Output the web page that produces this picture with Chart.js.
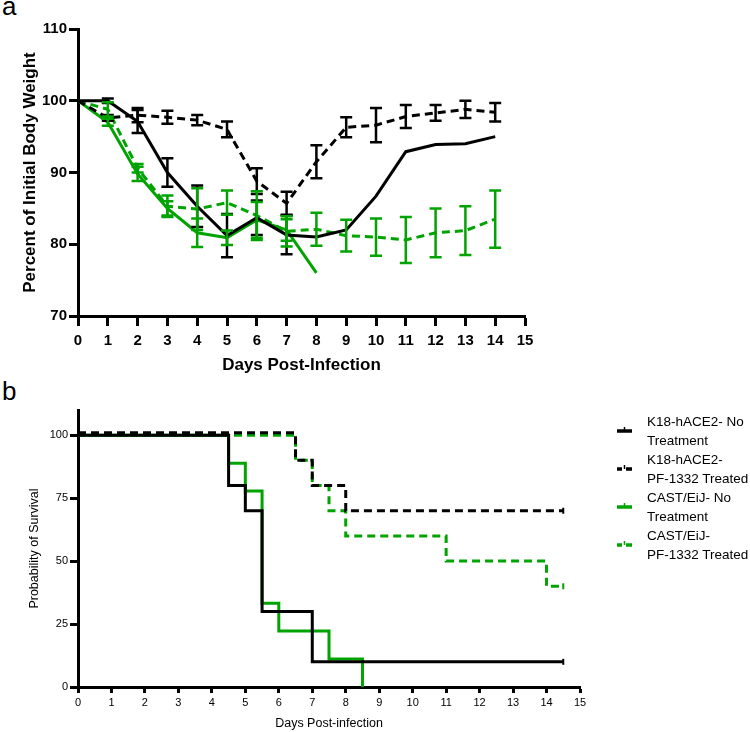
<!DOCTYPE html>
<html>
<head>
<meta charset="utf-8">
<script src="https://cdn.jsdelivr.net/npm/chart.js@4.4.1/dist/chart.umd.min.js"></script>
<style>
  body { margin: 0; background: #fff; width: 750px; height: 732px; position: relative; overflow: hidden; font-family: "Liberation Sans", Arial, sans-serif; }
  .panel { position: absolute; left: 2px; font-size: 26px; line-height: 26px; color: #000; }
  #wrapA { position: absolute; left: 0; top: 0; }
  #wrapB { position: absolute; left: 0; top: 380px; }
  #legend { position: absolute; left: 615px; top: 412px; font-size: 13.5px; line-height: 19px; color: #000; }
  .item { position: relative; padding-left: 32px; height: 38px; }
  .item svg { position: absolute; left: 0; top: 13px; }
</style>
</head>
<body>
<div class="panel" style="top:-7px">a</div>
<div class="panel" style="top:378px">b</div>
<div id="wrapA"><canvas id="weight" width="750" height="380"></canvas></div>
<div id="wrapB"><canvas id="survival" width="750" height="352"></canvas></div>
<div id="legend"></div>

<script>
const BLACK = '#000000'
const GREEN = '#00a300'
const FONT = '"Liberation Sans", Arial, sans-serif'

// panel a: percent of initial body weight, mean and sem per day
const days = [0, 1, 2, 3, 4, 5, 6, 7, 8, 9, 10, 11, 12, 13, 14]
const k18NoTxMean = [100, 100, 97.1, 90, 85.3, 81.2, 83.7, 81.3, 81, 82, 86.7, 92.9, 93.9, 94, 95]
const k18NoTxSem = [0, 0.3, 1.6, 2, 2.9, 3, 2.4, 2.7, 0, 0, 0, 0, 0, 0, 0]
const k18PfMean = [100, 97.6, 98, 97.7, 97.3, 96, 88.8, 85.7, 91.5, 96.3, 96.6, 97.8, 98.3, 98.8, 98.4]
const k18PfSem = [0, 0.4, 1.0, 0.9, 0.7, 1.1, 1.8, 1.6, 2.3, 1.4, 2.4, 1.6, 1.1, 1.2, 1.3]
const castNoTxMean = [100, 97, 89.8, 85, 81.6, 80.9, 83.4, 82, 76]
const castNoTxSem = [0, 0.5, 1, 1, 2, 1, 2.5, 1.5, 0]
const castPfMean = [100, 98.8, 90.6, 85.3, 84.9, 85.8, 84, 81.8, 82.1, 81.2, 81, 80.6, 81.6, 81.9, 83.5]
const castPfSem = [0, 1, 0.6, 1.5, 2.9, 1.7, 3.4, 2.1, 2.3, 2.2, 2.6, 3.2, 3.4, 3.4, 4]

// panel b: Kaplan-Meier survival steps
const k18NoTxTimes = [0, 4.5, 5, 5.5, 7, 14.5]
const k18NoTxSurv = [100, 80, 70, 30, 10, 10]
const k18PfTimes = [0, 6.5, 7, 8, 14.5]
const k18PfSurv = [101, 90, 80, 70, 70]
const castNoTxTimes = [0, 4.5, 5, 5.5, 6, 7.5, 8.5]
const castNoTxSurv = [100, 88.9, 77.8, 33.3, 22.2, 11.1, 0]
const castPfTimes = [0, 6.5, 7, 7.5, 8, 11, 14, 14.5]
const castPfSurv = [100, 90, 80, 70, 60, 50, 40, 40]

const legendLabels = [
  ['K18-hACE2- No', 'Treatment'],
  ['K18-hACE2-', 'PF-1332 Treated'],
  ['CAST/EiJ- No', 'Treatment'],
  ['CAST/EiJ-', 'PF-1332 Treated']
]

const toPoints = (xs, ys) => ys.map((v, i) => ({ x: xs[i], y: v }))

const errorBars = {
  id: 'errorBars',
  afterDatasetsDraw(chart) {
    const { ctx, scales: { x, y } } = chart
    chart.data.datasets.forEach((ds) => {
      if (!ds.sem) return
      ctx.save()
      ctx.strokeStyle = ds.borderColor
      ctx.lineWidth = 2.5
      ctx.setLineDash([])
      ds.data.forEach((p, j) => {
        const e = ds.sem[j]
        if (!e) return
        const px = x.getPixelForValue(p.x)
        const hi = y.getPixelForValue(p.y + e)
        const lo = y.getPixelForValue(p.y - e)
        ctx.beginPath()
        ctx.moveTo(px, hi); ctx.lineTo(px, lo)
        ctx.moveTo(px - 6, hi); ctx.lineTo(px + 6, hi)
        ctx.moveTo(px - 6, lo); ctx.lineTo(px + 6, lo)
        ctx.stroke()
      })
      ctx.restore()
    })
  }
}

function axis(opts) {
  return {
    type: 'linear',
    min: opts.min,
    max: opts.max,
    ticks: {
      stepSize: opts.step,
      color: BLACK,
      padding: opts.tickPad,
      font: { family: FONT, size: opts.tickSize, weight: opts.weight }
    },
    grid: { drawOnChartArea: false, drawTicks: true, tickLength: opts.tickLen, tickWidth: opts.lineW, tickColor: BLACK },
    border: { color: BLACK, width: opts.lineW },
    title: {
      display: true,
      text: opts.title,
      color: BLACK,
      padding: opts.titlePad,
      font: { family: FONT, size: opts.titleSize, weight: opts.weight }
    },
    afterFit: opts.fit,
    afterBuildTicks: opts.buildTicks
  }
}

const lineStyle = (color, dashed, width) => ({
  borderColor: color,
  backgroundColor: color,
  borderWidth: width,
  borderDash: dashed ? [8, 5] : [],
  pointRadius: 0,
  tension: 0,
  fill: false
})

new Chart(document.getElementById('weight'), {
  type: 'line',
  data: {
    datasets: [
      { ...lineStyle(BLACK, false, 3), data: toPoints(days, k18NoTxMean), sem: k18NoTxSem },
      { ...lineStyle(BLACK, true, 3), data: toPoints(days, k18PfMean), sem: k18PfSem },
      { ...lineStyle(GREEN, false, 3), data: toPoints(days, castNoTxMean), sem: castNoTxSem },
      { ...lineStyle(GREEN, true, 3), data: toPoints(days, castPfMean), sem: castPfSem }
    ]
  },
  options: {
    responsive: false,
    animation: false,
    layout: { padding: { top: 29, right: 225, left: 0, bottom: 0 } },
    plugins: { legend: { display: false }, tooltip: { enabled: false } },
    scales: {
      x: axis({ min: 0, max: 15, step: 1, tickSize: 15, weight: 'bold', tickPad: 6, tickLen: 10, lineW: 3,
        title: 'Days Post-Infection', titleSize: 17, titlePad: { top: 0, bottom: 4 }, fit: (s) => { s.height = 64 } }),
      y: axis({ min: 70, max: 110, step: 10, tickSize: 15, weight: 'bold', tickPad: 2, tickLen: 9, lineW: 3,
        title: 'Percent of Initial Body Weight', titleSize: 17, titlePad: { top: 20, bottom: 0 }, fit: (s) => { s.width = 78 } })
    }
  },
  plugins: [errorBars]
})

const kmStyle = (color, dashed, n, censored) => ({
  ...lineStyle(color, dashed, 3),
  stepped: true,
  pointStyle: 'line',
  rotation: 90,
  pointBorderWidth: 2,
  pointBorderColor: color,
  pointRadius: Array.from({ length: n }, (_, i) => (censored && i === n - 1 ? 3 : 0))
})

new Chart(document.getElementById('survival'), {
  type: 'line',
  data: {
    datasets: [
      { ...kmStyle(BLACK, false, k18NoTxTimes.length, true), data: toPoints(k18NoTxTimes, k18NoTxSurv) },
      { ...kmStyle(BLACK, true, k18PfTimes.length, true), data: toPoints(k18PfTimes, k18PfSurv) },
      { ...kmStyle(GREEN, false, castNoTxTimes.length, false), data: toPoints(castNoTxTimes, castNoTxSurv) },
      { ...kmStyle(GREEN, true, castPfTimes.length, true), data: toPoints(castPfTimes, castPfSurv) }
    ]
  },
  options: {
    responsive: false,
    animation: false,
    layout: { padding: { top: 30, right: 170, left: 0, bottom: 0 } },
    plugins: { legend: { display: false }, tooltip: { enabled: false } },
    scales: {
      x: axis({ min: 0, max: 15, step: 1, tickSize: 11, weight: 'normal', tickPad: 3, tickLen: 6, lineW: 3,
        title: 'Days Post-infection', titleSize: 12.5, titlePad: { top: 0, bottom: 1 }, fit: (s) => { s.height = 45 } }),
      y: axis({ min: 0, max: 110, step: 25, tickSize: 11, weight: 'normal', tickPad: 2, tickLen: 8, lineW: 3,
        title: 'Probability of Survival', titleSize: 12.5, titlePad: { top: 27, bottom: 0 }, fit: (s) => { s.width = 78 },
        buildTicks: (s) => { s.ticks = [0, 25, 50, 75, 100].map((v) => ({ value: v })) } })
    }
  }
})

// legend markers for panel b
const legendColors = [BLACK, BLACK, GREEN, GREEN]
const legendDashed = [false, true, false, true]
const legend = document.getElementById('legend')
legendLabels.forEach((lines, i) => {
  const c = legendColors[i]
  const seg = legendDashed[i]
    ? `<line x1="2" y1="6" x2="7" y2="6" stroke="${c}" stroke-width="3.5"/><line x1="11" y1="6" x2="17" y2="6" stroke="${c}" stroke-width="3.5"/>`
    : `<line x1="2" y1="6" x2="17" y2="6" stroke="${c}" stroke-width="3.5"/>`
  const item = document.createElement('div')
  item.className = 'item'
  item.innerHTML = `<svg width="19" height="10">${seg}<line x1="9.5" y1="2" x2="9.5" y2="6" stroke="${c}" stroke-width="1.5"/></svg>` +
    lines.map((t) => `<div>${t}</div>`).join('')
  legend.appendChild(item)
})
</script>
</body>
</html>
